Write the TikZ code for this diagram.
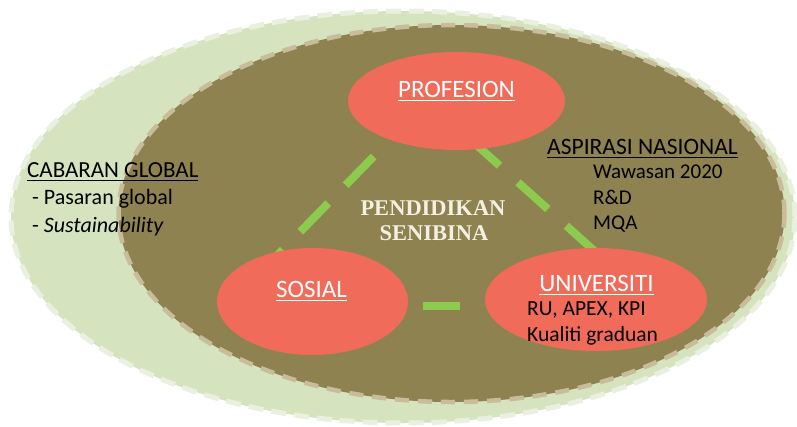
\documentclass[tikz,border=0pt]{standalone}
\usepackage{fontspec}
\setmainfont{Carlito}
\newfontfamily\serifbold{Liberation Serif}
\usetikzlibrary{shapes.geometric}
\definecolor{paleGreen}{HTML}{D6E3BF}
\definecolor{paleDash}{HTML}{EAF0E0}
\definecolor{oliveFill}{HTML}{8E8250}
\definecolor{tanDash}{HTML}{C8BD9B}
\definecolor{salmon}{HTML}{F06B5A}
\definecolor{limeLine}{HTML}{8DCB4F}
\definecolor{creamText}{HTML}{F4F0E2}
\newcommand\ulx[1]{\setbox0=\hbox{#1}\rlap{\rule[-4.3pt]{\wd0}{1.5pt}}\box0}
\tikzset{
  bigoval/.style={ellipse, inner sep=0pt},
  redoval/.style={ellipse, inner sep=0pt, fill=salmon},
  linkline/.style={draw=limeLine, line width=8pt},
  txt/.style={inner sep=0pt, anchor=base west, text=black},
  ttl/.style={inner sep=0pt, anchor=base, text=white, font=\fontsize{25}{28}\selectfont},
}
\begin{document}
\begin{tikzpicture}[x=1pt, y=-1pt]
\useasboundingbox (0,0) rectangle (797,426);
% outer and inner ellipses
\node[bigoval, fill=paleGreen, draw=paleDash, line width=5pt, dash pattern=on 15pt off 8pt,
      minimum width=784pt, minimum height=412pt] (outer) at (403,217) {};
\node[bigoval, fill=oliveFill, draw=tanDash, line width=4.5pt, dash pattern=on 14pt off 9pt,
      minimum width=666pt, minimum height=377pt] (inner) at (451.5,213.5) {};
% triangle connectors
\coordinate (lt) at (419,110);
\coordinate (lb) at (263,270);
\coordinate (rt) at (421.4,95.4);
\coordinate (rb) at (640,292);
\coordinate (bl) at (358,306);
\coordinate (br) at (560,306);
\draw[linkline, dash pattern=on 40pt off 25pt] (lt) -- (lb);
\draw[linkline, dash pattern=on 40pt off 25pt] (rt) -- (rb);
\draw[linkline, dash pattern=on 37pt off 28pt] (bl) -- (br);
% red ellipses
\node[redoval, minimum width=217pt, minimum height=98pt] (prof) at (456.5,101) {};
\node[redoval, minimum width=191pt, minimum height=107pt] (sos) at (312.5,301.5) {};
\node[redoval, minimum width=222pt, minimum height=103pt] (univ) at (596,299.5) {};
% titles
\node[ttl] (proft) at (456.5,97) {\ulx{PROFESION}};
\node[ttl] (sost) at (311.5,297) {\ulx{SOSIAL}};
\node[ttl] (univt) at (596.5,291) {\ulx{UNIVERSITI}};
\node[txt, font=\fontsize{21.5}{24}\selectfont] (u1) at (527,315) {RU, APEX, KPI};
\node[txt, font=\fontsize{21.5}{24}\selectfont] (u2) at (527,341) {Kualiti graduan};
% centre text
\node[inner sep=0pt, anchor=base, text=creamText, font=\serifbold\bfseries\fontsize{22.5}{25}\selectfont] (c1) at (433,215) {PENDIDIKAN};
\node[inner sep=0pt, anchor=base, text=creamText, font=\serifbold\bfseries\fontsize{22.5}{25}\selectfont] (c2) at (434,240) {SENIBINA};
% left text
\node[txt, font=\fontsize{23}{26}\selectfont] (cab) at (27,177) {\ulx{CABARAN GLOBAL}};
\node[txt, font=\fontsize{22}{25}\selectfont] (cab1) at (32,204) {- Pasaran global};
\node[txt, font=\fontsize{22}{25}\selectfont] (cab2) at (32,232) {- \textit{Sustainability}};
% right text
\node[txt, font=\fontsize{23.5}{26}\selectfont] (asp) at (547,154) {\ulx{ASPIRASI NASIONAL}};
\node[txt, font=\fontsize{21}{24}\selectfont] (asp1) at (593,178) {Wawasan 2020};
\node[txt, font=\fontsize{21}{24}\selectfont] (asp2) at (593,204) {R\&D};
\node[txt, font=\fontsize{21}{24}\selectfont] (asp3) at (593,229) {MQA};
\end{tikzpicture}
\end{document}
